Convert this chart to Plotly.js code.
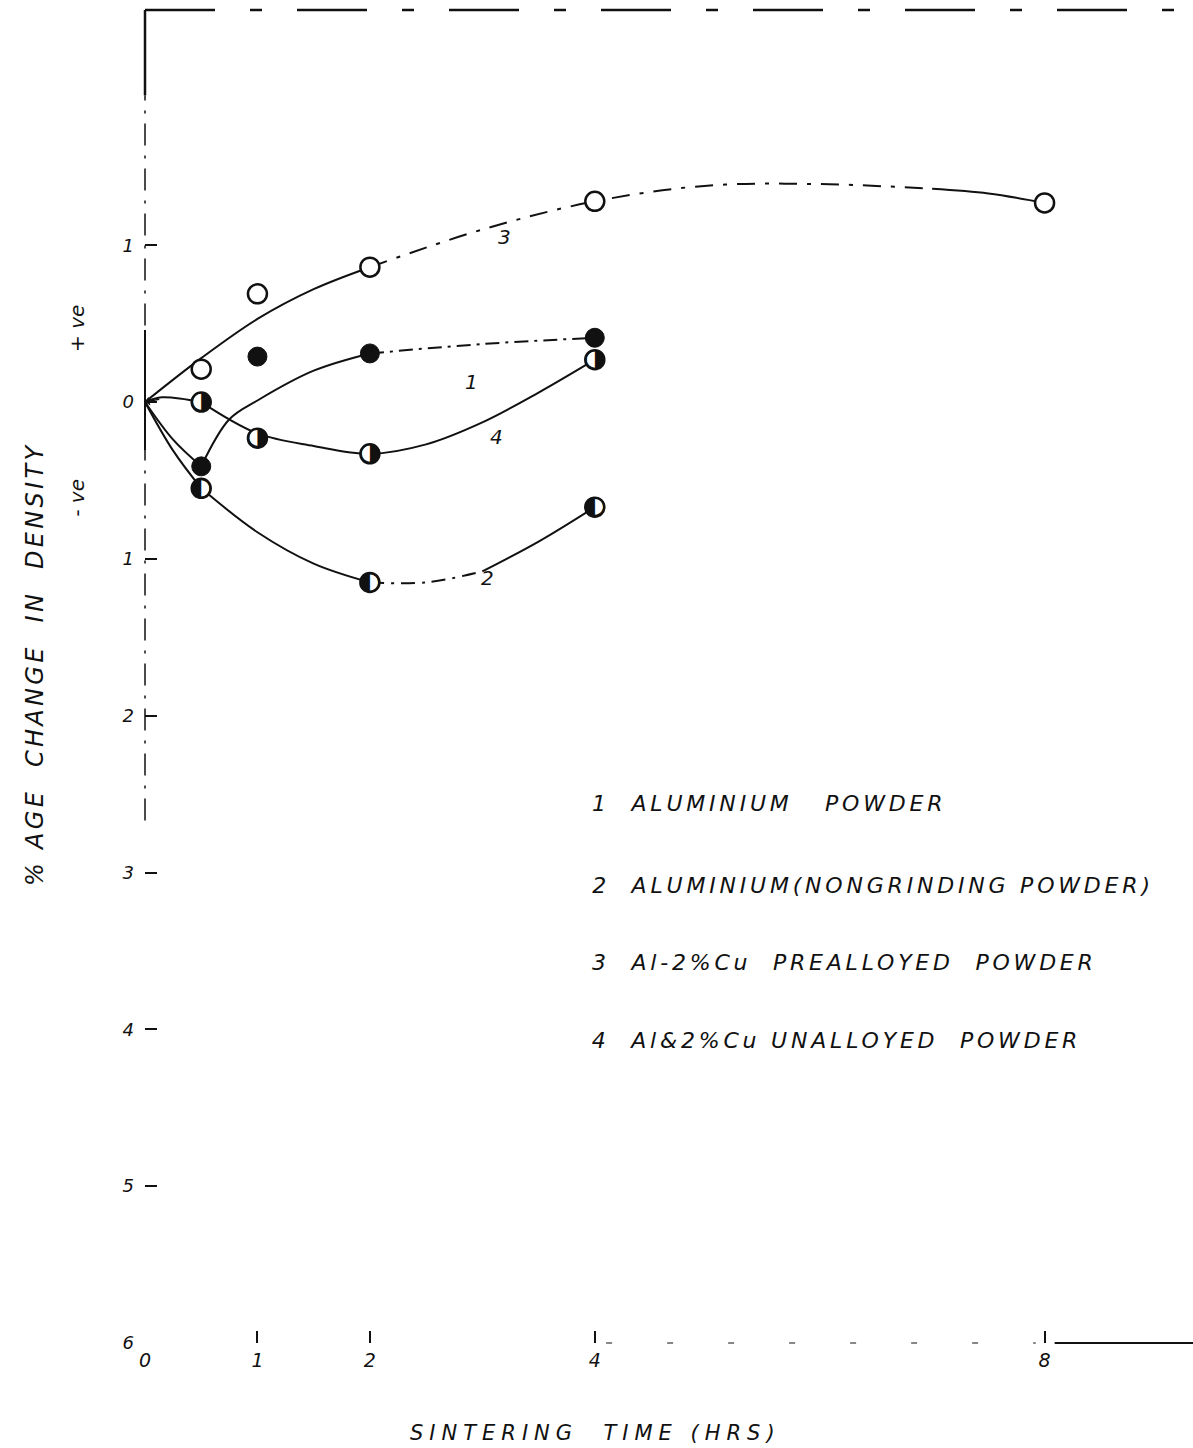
<!DOCTYPE html>
<html>
<head>
<meta charset="utf-8">
<script src="https://cdn.plot.ly/plotly-3.0.1.min.js"></script>
<style>
  html, body { margin: 0; padding: 0; background: #fff; }
  #chart { width: 1193px; height: 1448px; }
  /* hand-lettered look: widen the spacing of the long labels */
  .annotation[data-index="0"] text { letter-spacing: 3.3px; }
  .annotation[data-index="3"] text { letter-spacing: 6px; }
  .annotation[data-index="4"] text,
  .annotation[data-index="5"] text,
  .annotation[data-index="6"] text,
  .annotation[data-index="7"] text { letter-spacing: 3.8px; }
</style>
</head>
<body>
<div id="chart"></div>
<script>
// ---- axis ticks ----
const timeTicks     = [0, 1, 2, 4, 8];
const timeTickText  = ['0', '1', '2', '4', '8'];
const densTicks     = [1, 0, -1, -2, -3, -4, -5, -6];
const densTickText  = ['1', '0', '1', '2', '3', '4', '5', '6'];

// ---- measured points: sintering time (h) vs % change in density ----
// 1  Aluminium powder
const timeAl = [0.5, 1, 2, 4];
const densAl = [-0.41, 0.29, 0.31, 0.41];
// 2  Aluminium (nongrinding powder)
const timeAlNg = [0.5, 2, 4];
const densAlNg = [-0.55, -1.15, -0.67];
// 3  Al-2%Cu prealloyed powder
const timePre = [0.5, 1, 2, 4, 8];
const densPre = [0.21, 0.69, 0.86, 1.28, 1.27];
// 4  Al&2%Cu unalloyed powder
const timeUn = [0.5, 1, 2, 4];
const densUn = [0.0, -0.23, -0.33, 0.27];

// ---- hand-drawn trend curves ----
const curve1aT = [0, 0.25, 0.5];            const curve1aD = [0, -0.24, -0.41];
const curve1bT = [0.5, 0.75, 1, 1.5, 2];    const curve1bD = [-0.41, -0.11, 0.01, 0.2, 0.31];
const curve1cT = [2, 3, 4];                 const curve1cD = [0.31, 0.37, 0.41];

const curve2aT = [0, 0.25, 0.5];            const curve2aD = [0, -0.31, -0.55];
const curve2bT = [0.5, 1, 1.5, 2];          const curve2bD = [-0.55, -0.83, -1.03, -1.15];
const curve2cT = [2, 2.5, 3];               const curve2cD = [-1.15, -1.15, -1.08];
const curve2dT = [3, 3.5, 4];               const curve2dD = [-1.08, -0.89, -0.67];

const curve3aT = [0, 0.5, 1, 1.5, 2];       const curve3aD = [0, 0.28, 0.53, 0.72, 0.86];
const curve3bT = [2, 3, 4, 5, 6, 7];        const curve3bD = [0.86, 1.1, 1.28, 1.38, 1.39, 1.36];
const curve3cT = [7, 7.5, 8];               const curve3cD = [1.36, 1.33, 1.27];

const curve4aT = [0, 0.15, 0.5];            const curve4aD = [0, 0.03, 0.0];
const curve4bT = [0.5, 1, 1.5, 2, 2.5, 3, 3.5, 4];
const curve4bD = [0.0, -0.2, -0.28, -0.33, -0.27, -0.13, 0.06, 0.27];

// ---- key ----
const legendRows = [
  '1  ALUMINIUM   POWDER',
  '2  ALUMINIUM(NONGRINDING POWDER)',
  '3  Al-2%Cu  PREALLOYED  POWDER',
  '4  Al&2%Cu UNALLOYED  POWDER'
];
const curveLabels = ['3', '1', '4', '2'];

const INK = '#111';
const FONT = 'DejaVu Sans';

function curve(x, y, dash) {
  return {
    x: x, y: y, type: 'scatter', mode: 'lines', hoverinfo: 'skip',
    line: { shape: 'spline', smoothing: 1, color: INK, width: 2, dash: dash || 'solid' }
  };
}

const traces = [
  curve(curve1aT, curve1aD), curve(curve1bT, curve1bD), curve(curve1cT, curve1cD, '14px,6px,3px,6px'),
  curve(curve2aT, curve2aD), curve(curve2bT, curve2bD), curve(curve2cT, curve2cD, '14px,7px,3px,7px'), curve(curve2dT, curve2dD),
  curve(curve3aT, curve3aD), curve(curve3bT, curve3bD, '18px,10px,4px,10px'), curve(curve3cT, curve3cD),
  curve(curve4aT, curve4aD), curve(curve4bT, curve4bD),
  // 3: open circles
  { x: timePre, y: densPre, type: 'scatter', mode: 'markers',
    marker: { symbol: 'circle', size: 19, color: '#fff', line: { color: INK, width: 2.5 } } },
  // 1: solid circles
  { x: timeAl, y: densAl, type: 'scatter', mode: 'markers',
    marker: { symbol: 'circle', size: 19, color: INK, line: { color: INK, width: 1 } } },
  // 2 and 4: half-filled circles (white disc + half glyph)
  { x: timeAlNg, y: densAlNg, type: 'scatter', mode: 'markers+text',
    marker: { symbol: 'circle', size: 19, color: '#fff', line: { color: INK, width: 2.5 } },
    text: densAlNg.map(() => '◐'), textposition: 'middle center',
    textfont: { family: FONT, size: 25, color: INK } },
  { x: timeUn, y: densUn, type: 'scatter', mode: 'markers+text',
    marker: { symbol: 'circle', size: 19, color: '#fff', line: { color: INK, width: 2.5 } },
    text: densUn.map(() => '◑'), textposition: 'middle center',
    textfont: { family: FONT, size: 25, color: INK } }
];

const italic = (size) => ({ family: FONT, size: size, color: INK, style: 'italic' });

// plot area geometry (px) used to place the key rows
const PLOT_L = 145, PLOT_W = 1048, PLOT_T = 10, PLOT_H = 1333;
const KEY_LEFT = 590, KEY_SPACING = 3.8;
const keyRowPx = [803, 885, 962, 1040];

const annotations = [
  { text: '% AGE  CHANGE  IN  DENSITY', xref: 'paper', yref: 'paper', x: -0.105, y: 0.51,
    xanchor: 'center', yanchor: 'middle', textangle: -90, showarrow: false, font: italic(24) },
  { text: '+ ve', xref: 'paper', yref: 'paper', x: -0.065, y: 0.7614,
    xanchor: 'center', yanchor: 'middle', textangle: -90, showarrow: false, font: italic(20) },
  { text: '- ve', xref: 'paper', yref: 'paper', x: -0.065, y: 0.634,
    xanchor: 'center', yanchor: 'middle', textangle: -90, showarrow: false, font: italic(20) },
  { text: 'SINTERING  TIME (HRS)', xref: 'paper', yref: 'paper', x: 0.43, y: -0.0675,
    xanchor: 'center', yanchor: 'middle', showarrow: false, font: italic(21) }
];
legendRows.forEach((t, i) => annotations.push({
  text: t, xref: 'paper', yref: 'paper', xanchor: 'left', yanchor: 'middle',
  x: (KEY_LEFT + t.length * KEY_SPACING / 2 - PLOT_L) / PLOT_W,
  y: 1 - (keyRowPx[i] - PLOT_T) / PLOT_H,
  showarrow: false, font: italic(22)
}));
// curve numbers written beside each trend line
const curveLabelT = [3.2, 2.9, 3.13, 3.05];
const curveLabelD = [1.05, 0.13, -0.22, -1.12];
curveLabels.forEach((t, i) => annotations.push({
  text: t, x: curveLabelT[i], y: curveLabelD[i], xanchor: 'center', yanchor: 'middle',
  showarrow: false, font: italic(20)
}));
// arrow head at the origin of curve 4
annotations.push({ x: 0, y: 0, ax: 0.14, ay: 0.02, axref: 'x', ayref: 'y', text: '',
  showarrow: true, arrowhead: 1, arrowsize: 1, arrowwidth: 1.5, arrowcolor: INK });

const shapes = [
  // top frame (broken, as drawn)
  { type: 'line', xref: 'paper', yref: 'paper', x0: 0, x1: 1, y0: 1, y1: 1,
    line: { color: INK, width: 2.5, dash: '70px,35px,12px,35px' } },
  // left axis
  { type: 'line', xref: 'paper', yref: 'paper', x0: 0, x1: 0, y0: 0.936, y1: 1,
    line: { color: INK, width: 2.5 } },
  { type: 'line', xref: 'paper', yref: 'paper', x0: 0, x1: 0, y0: 0.392, y1: 0.936,
    line: { color: INK, width: 1.5, dash: '22px,10px,3px,10px' } },
  { type: 'line', xref: 'paper', yref: 'paper', x0: 0, x1: 0, y0: 0.67, y1: 0.76,
    line: { color: INK, width: 2 } },
  // bottom axis
  { type: 'line', xref: 'paper', yref: 'paper', x0: 0.44, x1: 0.85, y0: 0, y1: 0,
    line: { color: INK, width: 1.2, dash: '6px,55px' } },
  { type: 'line', xref: 'paper', yref: 'paper', x0: 0.868, x1: 1, y0: 0, y1: 0,
    line: { color: INK, width: 2 } }
];

const layout = {
  width: 1193, height: 1448,
  margin: { l: PLOT_L, r: 0, t: PLOT_T, b: 1448 - PLOT_T - PLOT_H },
  paper_bgcolor: '#fff', plot_bgcolor: '#fff',
  showlegend: false,
  xaxis: {
    range: [0, 9.32], tickvals: timeTicks, ticktext: timeTickText,
    ticks: 'inside', ticklen: 12, tickwidth: 2, tickcolor: INK,
    showgrid: false, zeroline: false, showline: false,
    tickfont: italic(19), ticklabelstandoff: 4
  },
  yaxis: {
    range: [-6, 2.5], tickvals: densTicks, ticktext: densTickText,
    ticks: 'inside', ticklen: 12, tickwidth: 2, tickcolor: INK,
    showgrid: false, zeroline: false, showline: false,
    tickfont: italic(18), ticklabelstandoff: 10
  },
  shapes: shapes,
  annotations: annotations
};

Plotly.newPlot('chart', traces, layout, { staticPlot: true, displayModeBar: false });
</script>
</body>
</html>
